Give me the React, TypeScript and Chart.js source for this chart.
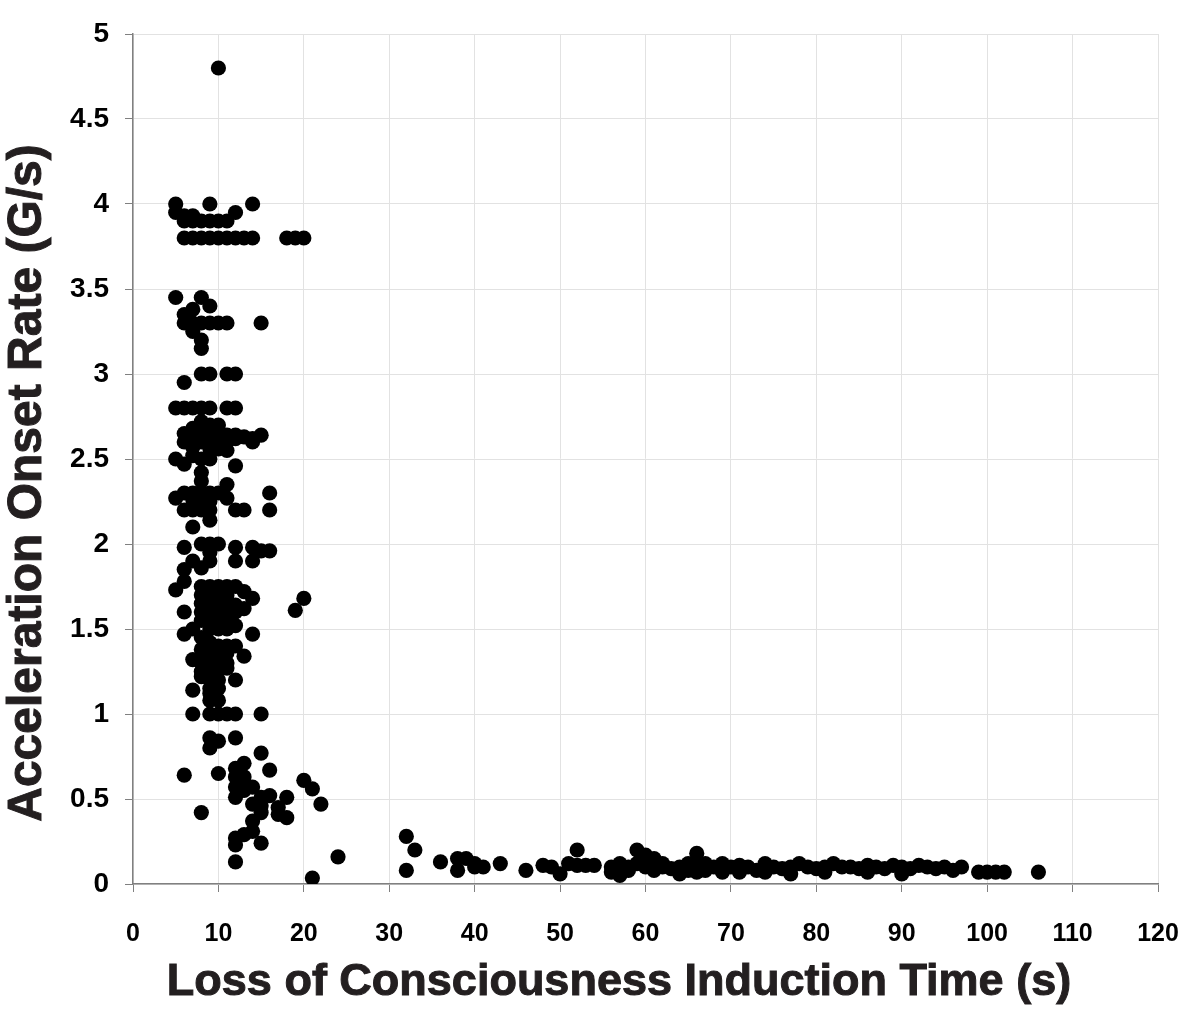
import React, { useEffect, useRef } from "react";
import { Chart, registerables } from "chart.js";

Chart.register(...registerables);

// Loss of consciousness induction time (s)
const lossTimes: number[] = [
  10,
  5, 9, 14, 5, 12, 6, 7, 6, 7, 8, 9, 10, 11,
  6, 7, 8, 9, 10, 11, 12, 13, 14, 18, 19, 20,
  5, 8, 9, 6, 7, 6, 7, 8, 9, 10, 11, 15, 7, 8, 8,
  8, 9, 11, 12, 6,
  5, 6, 7, 8, 9, 11, 12,
  8, 9, 10, 7, 8, 9, 6, 7, 10, 11, 12, 13, 14, 15, 6, 8, 9, 10, 11, 12, 14, 7, 9, 10, 11, 5, 6, 7, 8, 9, 12, 8, 8,
  5, 6, 7, 8, 9, 10, 11, 9, 11, 16, 7, 8,
  6, 7, 8, 9, 12, 13, 16, 9, 7,
  6, 8, 9, 10, 12, 14, 15, 16, 9, 7, 9, 12, 14, 6, 8,
  5, 6, 8, 9, 10, 11, 12, 13, 8, 9, 10, 11, 14, 20, 19, 6, 8, 9, 10, 11, 12, 8, 9, 10, 11, 12, 13, 8, 9, 10, 11, 9, 10, 11, 12, 6, 7, 14,
  8, 9, 10, 11, 12, 8, 9, 10, 11, 7, 8, 9, 10, 11, 13, 8, 9, 10, 11, 9, 10, 12, 8, 9, 10, 7, 9, 10, 9,
  7, 9, 10, 11, 12, 15,
  9, 10, 12, 9, 15, 13, 12, 16, 6, 10, 12, 20, 21, 13, 12, 14, 12, 15, 16, 18, 22, 14, 15, 17, 8, 17, 18, 14, 15, 14, 13, 12, 12, 15, 12, 24, 21, 13, 13,
  32, 33, 32, 36, 38, 39, 38, 40, 41, 40, 43, 46, 48, 49, 50, 51, 52, 52, 53, 54,
  56, 56, 57, 57, 58, 58, 59, 59, 60, 60, 61, 61, 62, 62, 63, 64, 64, 65, 65, 66, 66, 66,
  67, 67, 68, 69, 69, 70, 71, 71, 72, 73, 74, 74, 75, 76, 77, 77, 78, 79, 80, 81, 81, 82, 83, 84, 85, 86, 86, 87, 88, 89, 90, 90, 91, 92, 93, 94, 95, 96, 97,
  99, 100, 101, 102, 106,
];

// Acceleration onset rate (G/s)
const onsetRates: number[] = [
  4.8,
  4.0, 4.0, 4.0, 3.95, 3.95, 3.93, 3.93, 3.9, 3.9, 3.9, 3.9, 3.9, 3.9,
  3.8, 3.8, 3.8, 3.8, 3.8, 3.8, 3.8, 3.8, 3.8, 3.8, 3.8, 3.8,
  3.45, 3.45, 3.4, 3.35, 3.38, 3.3, 3.3, 3.3, 3.3, 3.3, 3.3, 3.3, 3.25, 3.2, 3.15,
  3.0, 3.0, 3.0, 3.0, 2.95,
  2.8, 2.8, 2.8, 2.8, 2.8, 2.8, 2.8,
  2.72, 2.7, 2.7, 2.68, 2.66, 2.66, 2.65, 2.64, 2.65, 2.64, 2.64, 2.63, 2.62, 2.64, 2.6, 2.6, 2.6, 2.6, 2.6, 2.62, 2.6, 2.57, 2.56, 2.56, 2.55, 2.5, 2.47, 2.52, 2.5, 2.5, 2.46, 2.42, 2.37,
  2.27, 2.3, 2.3, 2.3, 2.3, 2.3, 2.35, 2.25, 2.27, 2.3, 2.26, 2.28,
  2.2, 2.2, 2.2, 2.2, 2.2, 2.2, 2.2, 2.14, 2.1,
  1.98, 2.0, 2.0, 2.0, 1.98, 1.98, 1.96, 1.96, 1.95, 1.9, 1.9, 1.9, 1.9, 1.85, 1.86,
  1.73, 1.78, 1.75, 1.75, 1.75, 1.75, 1.75, 1.72, 1.7, 1.7, 1.72, 1.7, 1.68, 1.68, 1.61, 1.6, 1.65, 1.65, 1.65, 1.66, 1.64, 1.6, 1.6, 1.6, 1.6, 1.6, 1.62, 1.55, 1.55, 1.55, 1.55, 1.5, 1.5, 1.5, 1.52, 1.47, 1.5, 1.47,
  1.45, 1.42, 1.4, 1.4, 1.4, 1.38, 1.35, 1.35, 1.36, 1.32, 1.3, 1.3, 1.3, 1.3, 1.34, 1.25, 1.25, 1.26, 1.27, 1.2, 1.2, 1.2, 1.22, 1.15, 1.15, 1.14, 1.08, 1.08, 1.12,
  1.0, 1.0, 1.0, 1.0, 1.0, 1.0,
  0.86, 0.84, 0.86, 0.8, 0.77, 0.71, 0.68, 0.67, 0.64, 0.65, 0.63, 0.61, 0.56, 0.63, 0.57, 0.57, 0.51, 0.51, 0.52, 0.51, 0.47, 0.47, 0.46, 0.45, 0.42, 0.41, 0.39, 0.37, 0.42, 0.31, 0.29, 0.27, 0.23, 0.24, 0.13, 0.16, 0.035, 0.6, 0.55,
  0.28, 0.2, 0.08, 0.13, 0.15, 0.15, 0.08, 0.12, 0.1, 0.1, 0.12, 0.08, 0.11, 0.1, 0.06, 0.12, 0.2, 0.11, 0.11, 0.11,
  0.1, 0.07, 0.12, 0.05, 0.1, 0.08, 0.2, 0.12, 0.17, 0.1, 0.15, 0.08, 0.12, 0.1, 0.09, 0.1, 0.06, 0.12, 0.08, 0.18, 0.1, 0.07,
  0.12, 0.08, 0.1, 0.12, 0.07, 0.1, 0.11, 0.07, 0.1, 0.08, 0.12, 0.07, 0.1, 0.09, 0.1, 0.06, 0.12, 0.1, 0.09, 0.1, 0.07, 0.12, 0.1, 0.1, 0.09, 0.11, 0.07, 0.1, 0.09, 0.11, 0.1, 0.06, 0.09, 0.11, 0.1, 0.09, 0.1, 0.08, 0.1,
  0.07, 0.07, 0.07, 0.07, 0.07,
];

const xTitle = "Loss of Consciousness Induction Time (s)";
const yTitle = "Acceleration Onset Rate (G/s)";
const xRange = [0, 120];
const yRange = [0, 5];

const titlePlugin = {
  id: "customTitles",
  afterDraw(chart: any) {
    const ctx = chart.ctx;
    ctx.save();
    ctx.fillStyle = "#231f20";
    ctx.strokeStyle = "#231f20";
    ctx.lineWidth = 1;
    ctx.textAlign = "center";
    ctx.textBaseline = "alphabetic";
    ctx.font = "bold 45px 'Liberation Sans', Arial, sans-serif";
    ctx.fillText(xTitle, 619, 995);
    ctx.strokeText(xTitle, 619, 995);
    ctx.translate(41, 483);
    ctx.rotate(-Math.PI / 2);
    ctx.font = "bold 48px 'Liberation Sans', Arial, sans-serif";
    ctx.fillText(yTitle, 0, 0);
    ctx.strokeText(yTitle, 0, 0);
    ctx.restore();
  },
};

export default function App() {
  const ref = useRef<HTMLCanvasElement | null>(null);
  useEffect(() => {
    if (!ref.current) return;
    const points = lossTimes.map((x, i) => ({ x, y: onsetRates[i] }));
    const chart = new Chart(ref.current, {
      type: "scatter",
      data: {
        datasets: [
          {
            data: points,
            backgroundColor: "#000000",
            borderColor: "#000000",
            pointRadius: 7.6,
            pointHoverRadius: 7.6,
            borderWidth: 0,
          },
        ],
      },
      options: {
        animation: false,
        responsive: false,
        maintainAspectRatio: false,
        layout: { padding: { left: 0, top: 34, right: 42, bottom: 0 } },
        plugins: { legend: { display: false }, tooltip: { enabled: false } },
        scales: {
          x: {
            type: "linear",
            min: xRange[0],
            max: xRange[1],
            afterFit: (s: any) => {
              s.height = 136;
              s.paddingLeft = 0;
              s.paddingRight = 0;
            },
            ticks: {
              stepSize: 10,
              color: "#000",
              padding: 27,
              maxRotation: 0,
              font: { family: "'Liberation Sans', Arial, sans-serif", size: 25, weight: "bold" },
            },
            grid: { color: "#e2e2e2", tickColor: "#808080", tickLength: 8, lineWidth: 1 },
            border: { color: "#808080", width: 1.5 },
          },
          y: {
            type: "linear",
            min: yRange[0],
            max: yRange[1],
            afterFit: (s: any) => {
              s.width = 133;
              s.paddingTop = 0;
              s.paddingBottom = 0;
            },
            ticks: {
              stepSize: 0.5,
              color: "#000",
              padding: 16,
              callback: (v: any) => String(Number(v)),
              font: { family: "'Liberation Sans', Arial, sans-serif", size: 28, weight: "bold" },
            },
            grid: { color: "#e2e2e2", tickColor: "#808080", tickLength: 8, lineWidth: 1 },
            border: { color: "#808080", width: 1.5 },
          },
        },
      },
      plugins: [titlePlugin],
    });
    return () => chart.destroy();
  }, []);
  return (
    <div style={{ position: "absolute", left: 0, top: 0, width: 1200, height: 1020, background: "#fff" }}>
      <canvas ref={ref} width={1200} height={1020} style={{ width: 1200, height: 1020 }} />
    </div>
  );
}
